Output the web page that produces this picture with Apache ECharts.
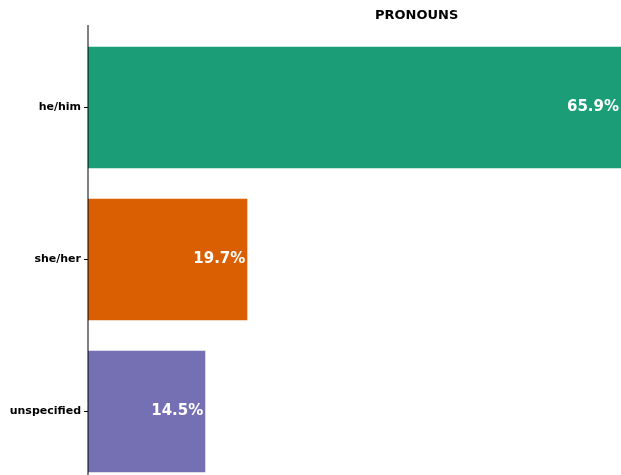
<!DOCTYPE html>
<html><head><meta charset="utf-8">
<script src="https://cdn.jsdelivr.net/npm/echarts@6/dist/echarts.min.js"></script>
<style>html,body{margin:0;padding:0;background:#fff;overflow:hidden;width:621px;height:475px}#c{width:621px;height:490px}</style>
</head><body><div id="c"></div>
<script>
const categories = ['he/him', 'she/her', 'unspecified'];
const values = [65.9, 19.7, 14.5];
const colors = ['#1b9e77', '#d95f02', '#7570b3'];
const titleText = 'PRONOUNS';

const chart = echarts.init(document.getElementById('c'), null, {renderer: 'canvas'});
const FONT = 'DejaVu Sans';
chart.setOption({
  animation: false,
  backgroundColor: '#fff',
  title: {
    text: titleText, left: 370, top: 4,
    textStyle: {fontFamily: FONT, fontWeight: 'bold', fontSize: 13, color: '#000'}
  },
  grid: {left: 88, top: 31.5, width: 533, height: 456, containLabel: false},
  xAxis: {
    type: 'value', min: 0, max: 65.9, show: false
  },
  yAxis: {
    type: 'category', data: categories, inverse: true,
    axisLine: {show: false},
    axisTick: {show: true, length: 4, lineStyle: {color: '#000', width: 1}, alignWithLabel: true},
    axisLabel: {fontFamily: FONT, fontWeight: 'bold', fontSize: 11, color: '#000', margin: 7}
  },
  graphic: [{
    type: 'line', shape: {x1: 88, y1: 25, x2: 88, y2: 490},
    style: {stroke: '#000', lineWidth: 1}, z: 10
  }],
  series: [{
    type: 'bar',
    data: values.map((v, i) => ({value: v, itemStyle: {color: colors[i]}})),
    barCategoryGap: '20%',
    label: {
      show: true, position: 'insideRight', distance: 2,
      formatter: p => p.value.toFixed(1) + '%',
      fontFamily: FONT, fontWeight: 'bold', fontSize: 15, color: '#fff'
    }
  }]
});
</script></body></html>
